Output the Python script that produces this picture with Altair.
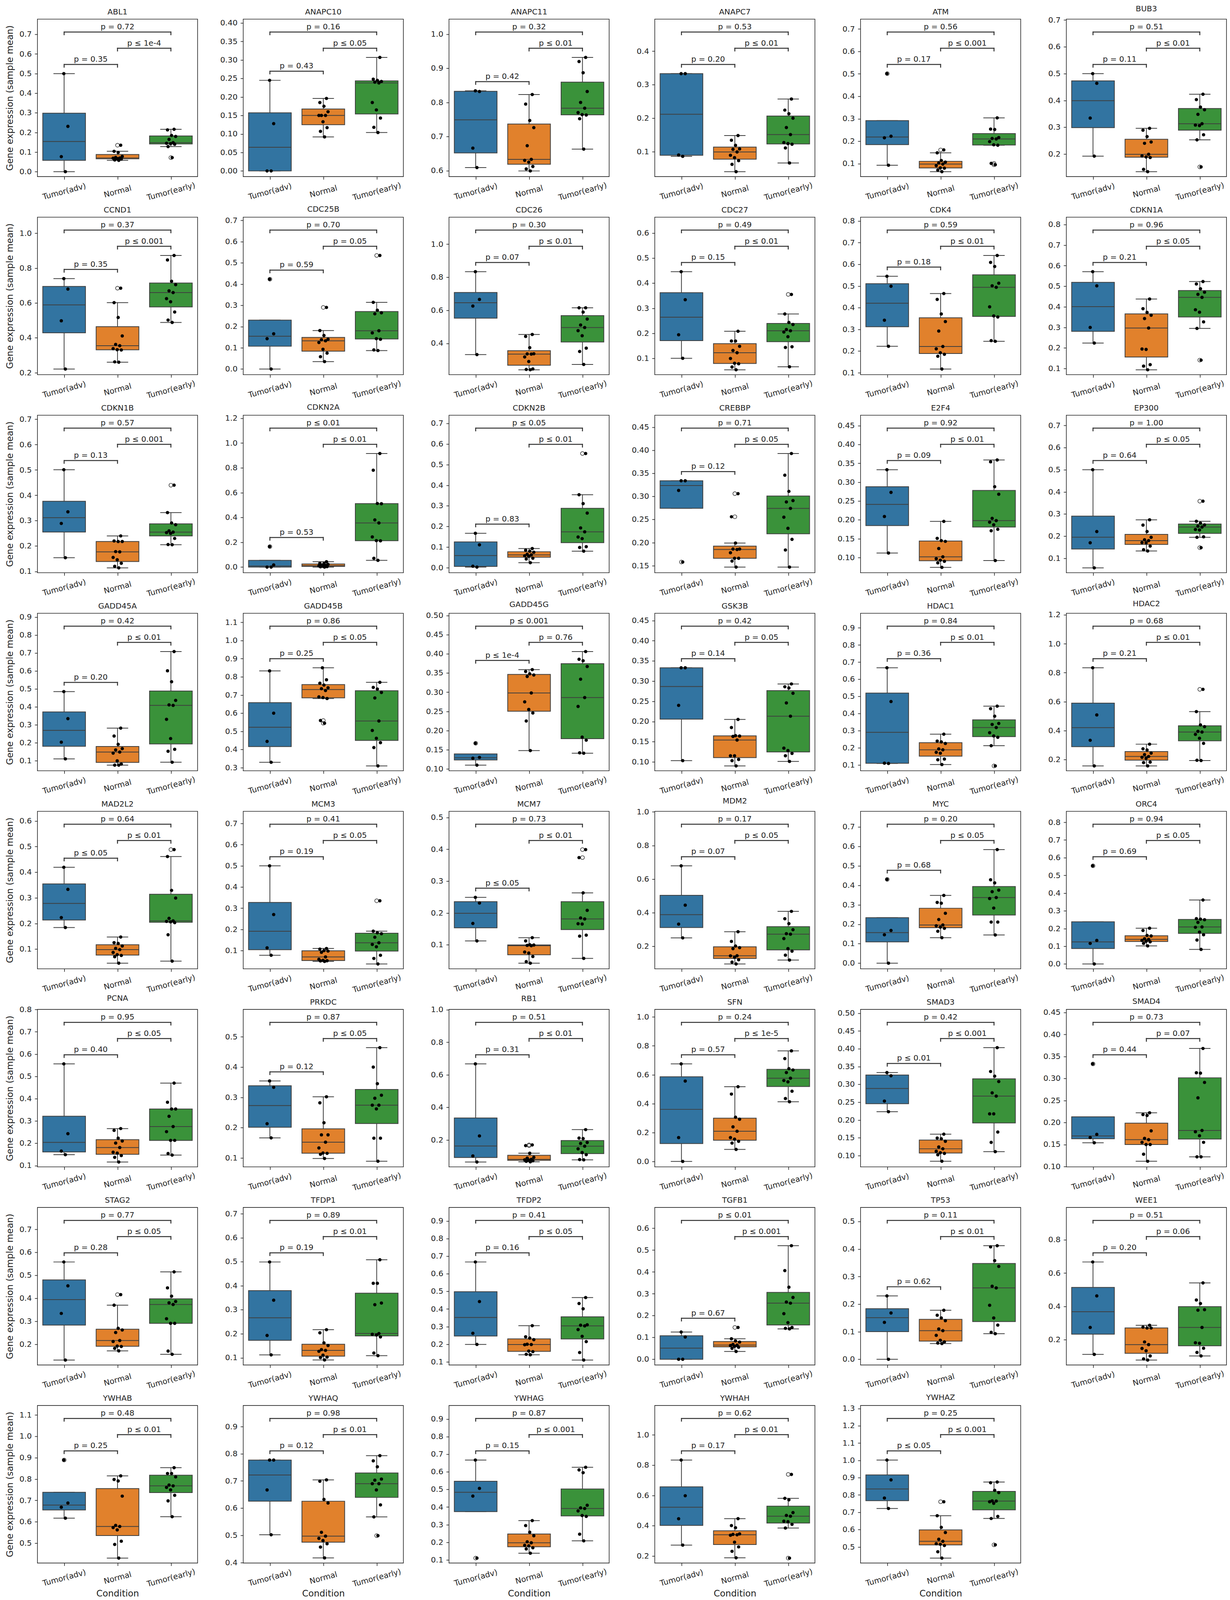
import math
import altair as alt
import pandas as pd

CATS = ["Tumor(adv)", "Normal", "Tumor(early)"]
COLORS = ["#3274a1", "#e1812c", "#3a923a"]

# ---- values: (Tumor(adv), Normal, Tumor(early)) ----
ABL1 = ([0.0, 0.077, 0.231, 0.5],
        [0.058, 0.060, 0.065, 0.067, 0.069, 0.070, 0.073, 0.078, 0.098, 0.104, 0.135],
        [0.072, 0.128, 0.140, 0.143, 0.145, 0.148, 0.165, 0.180, 0.185, 0.213, 0.216])
ANAPC10 = ([0.0, 0.0, 0.128, 0.245],
           [0.092, 0.107, 0.117, 0.133, 0.150, 0.150, 0.150, 0.160, 0.175, 0.185, 0.196],
           [0.104, 0.118, 0.143, 0.165, 0.185, 0.238, 0.240, 0.242, 0.245, 0.248, 0.307])
ANAPC11 = ([0.609, 0.666, 0.832, 0.834],
           [0.599, 0.605, 0.612, 0.625, 0.630, 0.633, 0.673, 0.726, 0.747, 0.795, 0.823],
           [0.663, 0.752, 0.763, 0.764, 0.770, 0.783, 0.800, 0.832, 0.887, 0.920, 0.932])
ANAPC7 = ([0.086, 0.090, 0.333, 0.333],
          [0.040, 0.062, 0.073, 0.082, 0.089, 0.099, 0.107, 0.108, 0.119, 0.134, 0.148],
          [0.066, 0.111, 0.122, 0.124, 0.127, 0.151, 0.172, 0.200, 0.213, 0.224, 0.257])
ATM = ([0.093, 0.215, 0.222, 0.501],
       [0.064, 0.071, 0.080, 0.081, 0.091, 0.098, 0.103, 0.107, 0.114, 0.148, 0.161],
       [0.095, 0.101, 0.182, 0.184, 0.198, 0.210, 0.212, 0.216, 0.252, 0.254, 0.304])
BUB3 = ([0.192, 0.334, 0.464, 0.500],
        [0.134, 0.143, 0.187, 0.189, 0.193, 0.199, 0.240, 0.245, 0.265, 0.289, 0.296],
        [0.152, 0.253, 0.272, 0.306, 0.308, 0.313, 0.348, 0.365, 0.375, 0.403, 0.423])
CCND1 = ([0.221, 0.498, 0.680, 0.740],
         [0.260, 0.262, 0.330, 0.332, 0.338, 0.355, 0.362, 0.411, 0.517, 0.602, 0.685],
         [0.488, 0.502, 0.548, 0.607, 0.625, 0.660, 0.670, 0.705, 0.725, 0.847, 0.873])
CDC25B = ([0.0, 0.143, 0.166, 0.423],
          [0.035, 0.058, 0.075, 0.093, 0.125, 0.133, 0.138, 0.140, 0.158, 0.181, 0.290],
          [0.087, 0.090, 0.140, 0.143, 0.170, 0.180, 0.260, 0.265, 0.277, 0.314, 0.535])
CDC26 = ([0.332, 0.626, 0.666, 0.834],
         [0.240, 0.242, 0.245, 0.290, 0.318, 0.335, 0.336, 0.337, 0.374, 0.442, 0.454],
         [0.272, 0.351, 0.371, 0.446, 0.477, 0.496, 0.511, 0.547, 0.589, 0.615, 0.615])
CDC27 = ([0.100, 0.194, 0.334, 0.446],
         [0.054, 0.065, 0.078, 0.080, 0.099, 0.122, 0.131, 0.148, 0.169, 0.169, 0.208],
         [0.066, 0.143, 0.146, 0.186, 0.205, 0.210, 0.215, 0.235, 0.243, 0.277, 0.355])
CDK4 = ([0.222, 0.342, 0.499, 0.545],
        [0.117, 0.176, 0.185, 0.192, 0.210, 0.221, 0.292, 0.336, 0.371, 0.438, 0.465],
        [0.245, 0.248, 0.357, 0.362, 0.404, 0.494, 0.501, 0.513, 0.590, 0.609, 0.641])
CDKN1A = ([0.224, 0.300, 0.502, 0.571],
          [0.094, 0.112, 0.119, 0.193, 0.195, 0.297, 0.343, 0.359, 0.373, 0.391, 0.438],
          [0.141, 0.295, 0.327, 0.374, 0.386, 0.446, 0.461, 0.471, 0.488, 0.511, 0.523])
CDKN1B = ([0.154, 0.289, 0.335, 0.501],
          [0.114, 0.120, 0.132, 0.146, 0.155, 0.177, 0.178, 0.218, 0.218, 0.220, 0.240],
          [0.205, 0.206, 0.230, 0.250, 0.253, 0.255, 0.260, 0.284, 0.291, 0.332, 0.440])
CDKN2A = ([0.0, 0.0, 0.017, 0.165],
          [0.0, 0.002, 0.004, 0.006, 0.010, 0.012, 0.015, 0.022, 0.028, 0.030, 0.043],
          [0.054, 0.071, 0.212, 0.213, 0.243, 0.356, 0.380, 0.511, 0.513, 0.781, 0.916])
CDKN2B = ([0.003, 0.007, 0.111, 0.167],
          [0.024, 0.042, 0.046, 0.055, 0.058, 0.062, 0.065, 0.075, 0.080, 0.085, 0.093],
          [0.080, 0.098, 0.102, 0.141, 0.149, 0.174, 0.193, 0.265, 0.311, 0.354, 0.554])
CREBBP = ([0.158, 0.313, 0.334, 0.334],
          [0.147, 0.160, 0.166, 0.166, 0.178, 0.185, 0.186, 0.186, 0.199, 0.256, 0.306],
          [0.147, 0.184, 0.207, 0.231, 0.255, 0.274, 0.288, 0.291, 0.311, 0.346, 0.393])
E2F4 = ([0.112, 0.209, 0.273, 0.333],
        [0.074, 0.086, 0.090, 0.093, 0.097, 0.102, 0.124, 0.143, 0.145, 0.151, 0.196],
        [0.092, 0.171, 0.175, 0.187, 0.194, 0.198, 0.204, 0.268, 0.288, 0.354, 0.359])
EP300 = ([0.057, 0.170, 0.221, 0.500],
         [0.133, 0.139, 0.155, 0.170, 0.171, 0.180, 0.184, 0.195, 0.221, 0.250, 0.274],
         [0.148, 0.195, 0.197, 0.228, 0.230, 0.241, 0.245, 0.251, 0.259, 0.267, 0.358])
GADD45A = ([0.110, 0.203, 0.334, 0.485],
           [0.075, 0.075, 0.081, 0.099, 0.142, 0.148, 0.160, 0.167, 0.191, 0.237, 0.281],
           [0.091, 0.152, 0.163, 0.223, 0.330, 0.408, 0.411, 0.436, 0.540, 0.601, 0.708])
GADD45B = ([0.330, 0.445, 0.600, 0.833],
           [0.545, 0.560, 0.681, 0.686, 0.690, 0.725, 0.735, 0.740, 0.755, 0.765, 0.784, 0.850],
           [0.310, 0.411, 0.438, 0.462, 0.505, 0.557, 0.684, 0.714, 0.733, 0.742, 0.770])
GADD45G = ([0.110, 0.128, 0.130, 0.167],
           [0.148, 0.225, 0.246, 0.255, 0.275, 0.298, 0.341, 0.345, 0.348, 0.354, 0.359],
           [0.141, 0.142, 0.175, 0.183, 0.263, 0.286, 0.334, 0.367, 0.382, 0.386, 0.406])
GSK3B = ([0.103, 0.240, 0.333, 0.333],
         [0.090, 0.103, 0.106, 0.115, 0.115, 0.154, 0.163, 0.164, 0.165, 0.185, 0.205],
         [0.101, 0.115, 0.121, 0.128, 0.134, 0.213, 0.246, 0.270, 0.283, 0.286, 0.293])
HDAC1 = ([0.108, 0.110, 0.470, 0.667],
         [0.102, 0.130, 0.134, 0.168, 0.173, 0.188, 0.193, 0.225, 0.234, 0.239, 0.279],
         [0.094, 0.212, 0.261, 0.269, 0.288, 0.318, 0.336, 0.342, 0.384, 0.428, 0.443])
HDAC2 = ([0.156, 0.333, 0.508, 0.834],
         [0.156, 0.179, 0.182, 0.209, 0.215, 0.221, 0.234, 0.244, 0.266, 0.274, 0.306],
         [0.193, 0.195, 0.312, 0.347, 0.374, 0.390, 0.395, 0.427, 0.439, 0.531, 0.685])
MAD2L2 = ([0.184, 0.223, 0.333, 0.419],
          [0.045, 0.070, 0.075, 0.078, 0.087, 0.098, 0.103, 0.112, 0.122, 0.125, 0.147],
          [0.053, 0.156, 0.203, 0.206, 0.208, 0.210, 0.220, 0.299, 0.329, 0.461, 0.488])
MCM3 = ([0.078, 0.113, 0.270, 0.500],
        [0.049, 0.051, 0.052, 0.054, 0.059, 0.070, 0.092, 0.098, 0.100, 0.107, 0.110],
        [0.037, 0.063, 0.078, 0.118, 0.129, 0.137, 0.163, 0.180, 0.184, 0.192, 0.335])
MCM7 = ([0.112, 0.167, 0.231, 0.249],
        [0.042, 0.047, 0.063, 0.074, 0.077, 0.097, 0.098, 0.099, 0.100, 0.112, 0.122],
        [0.057, 0.127, 0.130, 0.165, 0.166, 0.181, 0.184, 0.208, 0.263, 0.374, 0.399])
MDM2 = ([0.250, 0.332, 0.445, 0.679],
        [0.095, 0.106, 0.120, 0.135, 0.143, 0.144, 0.186, 0.192, 0.202, 0.229, 0.287],
        [0.118, 0.147, 0.171, 0.186, 0.246, 0.272, 0.275, 0.299, 0.335, 0.364, 0.408])
MYC = ([0.0, 0.146, 0.168, 0.430],
       [0.131, 0.164, 0.179, 0.185, 0.192, 0.196, 0.224, 0.256, 0.308, 0.312, 0.348],
       [0.145, 0.211, 0.211, 0.283, 0.332, 0.337, 0.367, 0.375, 0.412, 0.428, 0.583])
ORC4 = ([0.0, 0.116, 0.133, 0.554],
        [0.102, 0.116, 0.125, 0.128, 0.133, 0.139, 0.142, 0.158, 0.161, 0.189, 0.202],
        [0.082, 0.135, 0.165, 0.180, 0.207, 0.209, 0.235, 0.250, 0.253, 0.256, 0.361])
PCNA = ([0.149, 0.165, 0.243, 0.556],
        [0.116, 0.137, 0.145, 0.156, 0.160, 0.181, 0.201, 0.210, 0.223, 0.258, 0.266],
        [0.147, 0.154, 0.213, 0.213, 0.252, 0.275, 0.321, 0.354, 0.354, 0.384, 0.470])
PRKDC = ([0.166, 0.213, 0.333, 0.354],
         [0.098, 0.112, 0.115, 0.116, 0.133, 0.152, 0.176, 0.176, 0.216, 0.282, 0.302],
         [0.089, 0.165, 0.165, 0.262, 0.274, 0.274, 0.297, 0.307, 0.345, 0.400, 0.464])
RB1 = ([0.064, 0.101, 0.224, 0.667],
       [0.065, 0.068, 0.072, 0.076, 0.077, 0.080, 0.088, 0.093, 0.118, 0.165, 0.169],
       [0.077, 0.079, 0.109, 0.122, 0.145, 0.161, 0.178, 0.184, 0.208, 0.211, 0.263])
SFN = ([0.0, 0.165, 0.556, 0.675],
       [0.083, 0.127, 0.139, 0.154, 0.165, 0.209, 0.239, 0.292, 0.306, 0.466, 0.517],
       [0.413, 0.435, 0.486, 0.551, 0.560, 0.576, 0.615, 0.633, 0.642, 0.712, 0.765])
SMAD3 = ([0.223, 0.253, 0.324, 0.333],
         [0.084, 0.102, 0.106, 0.108, 0.112, 0.119, 0.124, 0.140, 0.147, 0.149, 0.160],
         [0.111, 0.137, 0.166, 0.217, 0.217, 0.267, 0.276, 0.308, 0.323, 0.336, 0.403])
SMAD4 = ([0.154, 0.166, 0.173, 0.333],
         [0.112, 0.128, 0.150, 0.150, 0.155, 0.161, 0.164, 0.181, 0.216, 0.218, 0.222],
         [0.122, 0.122, 0.155, 0.170, 0.179, 0.182, 0.256, 0.291, 0.312, 0.313, 0.368])
STAG2 = ([0.131, 0.334, 0.454, 0.558],
         [0.171, 0.182, 0.190, 0.192, 0.212, 0.216, 0.251, 0.262, 0.269, 0.370, 0.416],
         [0.156, 0.170, 0.291, 0.291, 0.311, 0.373, 0.380, 0.386, 0.409, 0.445, 0.515])
TFDP1 = ([0.112, 0.193, 0.340, 0.499],
         [0.091, 0.101, 0.103, 0.111, 0.127, 0.131, 0.134, 0.151, 0.162, 0.204, 0.217],
         [0.109, 0.120, 0.187, 0.195, 0.198, 0.201, 0.321, 0.328, 0.410, 0.410, 0.508])
TFDP2 = ([0.199, 0.262, 0.442, 0.667],
         [0.140, 0.143, 0.158, 0.161, 0.197, 0.198, 0.200, 0.226, 0.235, 0.242, 0.305],
         [0.110, 0.153, 0.215, 0.245, 0.283, 0.304, 0.308, 0.310, 0.401, 0.431, 0.465])
TGFB1 = ([0.0, 0.0, 0.102, 0.125],
         [0.036, 0.050, 0.055, 0.059, 0.063, 0.065, 0.068, 0.079, 0.084, 0.094, 0.146],
         [0.139, 0.142, 0.146, 0.168, 0.209, 0.257, 0.262, 0.283, 0.330, 0.406, 0.520])
TP53 = ([0.0, 0.134, 0.168, 0.230],
        [0.057, 0.059, 0.063, 0.069, 0.087, 0.104, 0.110, 0.140, 0.150, 0.160, 0.178],
        [0.093, 0.098, 0.124, 0.150, 0.196, 0.259, 0.265, 0.337, 0.358, 0.408, 0.412])
WEE1 = ([0.111, 0.273, 0.463, 0.667],
        [0.077, 0.084, 0.102, 0.133, 0.147, 0.170, 0.186, 0.270, 0.270, 0.275, 0.286],
        [0.102, 0.123, 0.148, 0.178, 0.181, 0.273, 0.377, 0.380, 0.417, 0.438, 0.541])
YWHAB = ([0.617, 0.668, 0.688, 0.889],
         [0.430, 0.494, 0.509, 0.562, 0.573, 0.578, 0.583, 0.720, 0.791, 0.798, 0.815],
         [0.624, 0.698, 0.724, 0.749, 0.761, 0.768, 0.772, 0.810, 0.826, 0.826, 0.853])
YWHAQ = ([0.502, 0.667, 0.777, 0.777],
         [0.417, 0.457, 0.469, 0.481, 0.489, 0.497, 0.511, 0.619, 0.632, 0.699, 0.704],
         [0.499, 0.568, 0.612, 0.667, 0.690, 0.690, 0.703, 0.707, 0.752, 0.774, 0.793])
YWHAG = ([0.110, 0.462, 0.506, 0.667],
         [0.138, 0.162, 0.169, 0.180, 0.183, 0.197, 0.203, 0.237, 0.257, 0.295, 0.323],
         [0.208, 0.246, 0.347, 0.352, 0.378, 0.392, 0.395, 0.410, 0.595, 0.611, 0.626])
YWHAH = ([0.272, 0.446, 0.598, 0.834],
         [0.188, 0.231, 0.260, 0.291, 0.337, 0.340, 0.343, 0.346, 0.387, 0.401, 0.447],
         [0.186, 0.385, 0.409, 0.427, 0.430, 0.463, 0.468, 0.487, 0.571, 0.581, 0.739])
YWHAZ = ([0.722, 0.782, 0.887, 1.002],
         [0.435, 0.472, 0.508, 0.515, 0.518, 0.532, 0.544, 0.583, 0.613, 0.680, 0.761],
         [0.512, 0.664, 0.676, 0.752, 0.761, 0.765, 0.766, 0.814, 0.827, 0.871, 0.875])

# p-value labels: (adv vs Normal, Normal vs early, adv vs early)
P_LABELS = {
    "ABL1": ("p = 0.35", "p ≤ 1e-4", "p = 0.72"),
    "ANAPC10": ("p = 0.43", "p ≤ 0.05", "p = 0.16"),
    "ANAPC11": ("p = 0.42", "p ≤ 0.01", "p = 0.32"),
    "ANAPC7": ("p = 0.20", "p ≤ 0.01", "p = 0.53"),
    "ATM": ("p = 0.17", "p ≤ 0.001", "p = 0.56"),
    "BUB3": ("p = 0.11", "p ≤ 0.01", "p = 0.51"),
    "CCND1": ("p = 0.35", "p ≤ 0.001", "p = 0.37"),
    "CDC25B": ("p = 0.59", "p = 0.05", "p = 0.70"),
    "CDC26": ("p = 0.07", "p ≤ 0.01", "p = 0.30"),
    "CDC27": ("p = 0.15", "p ≤ 0.01", "p = 0.49"),
    "CDK4": ("p = 0.18", "p ≤ 0.01", "p = 0.59"),
    "CDKN1A": ("p = 0.21", "p ≤ 0.05", "p = 0.96"),
    "CDKN1B": ("p = 0.13", "p ≤ 0.001", "p = 0.57"),
    "CDKN2A": ("p = 0.53", "p ≤ 0.01", "p ≤ 0.01"),
    "CDKN2B": ("p = 0.83", "p ≤ 0.01", "p ≤ 0.05"),
    "CREBBP": ("p = 0.12", "p ≤ 0.05", "p = 0.71"),
    "E2F4": ("p = 0.09", "p ≤ 0.01", "p = 0.92"),
    "EP300": ("p = 0.64", "p ≤ 0.05", "p = 1.00"),
    "GADD45A": ("p = 0.20", "p ≤ 0.01", "p = 0.42"),
    "GADD45B": ("p = 0.25", "p ≤ 0.05", "p = 0.86"),
    "GADD45G": ("p ≤ 1e-4", "p = 0.76", "p ≤ 0.001"),
    "GSK3B": ("p = 0.14", "p = 0.05", "p = 0.42"),
    "HDAC1": ("p = 0.36", "p ≤ 0.01", "p = 0.84"),
    "HDAC2": ("p = 0.21", "p ≤ 0.01", "p = 0.68"),
    "MAD2L2": ("p ≤ 0.05", "p ≤ 0.01", "p = 0.64"),
    "MCM3": ("p = 0.19", "p ≤ 0.05", "p = 0.41"),
    "MCM7": ("p ≤ 0.05", "p ≤ 0.01", "p = 0.73"),
    "MDM2": ("p = 0.07", "p ≤ 0.05", "p = 0.17"),
    "MYC": ("p = 0.68", "p ≤ 0.05", "p = 0.20"),
    "ORC4": ("p = 0.69", "p ≤ 0.05", "p = 0.94"),
    "PCNA": ("p = 0.40", "p ≤ 0.05", "p = 0.95"),
    "PRKDC": ("p = 0.12", "p ≤ 0.05", "p = 0.87"),
    "RB1": ("p = 0.31", "p ≤ 0.01", "p = 0.51"),
    "SFN": ("p = 0.57", "p ≤ 1e-5", "p = 0.24"),
    "SMAD3": ("p ≤ 0.01", "p ≤ 0.001", "p = 0.42"),
    "SMAD4": ("p = 0.44", "p = 0.07", "p = 0.73"),
    "STAG2": ("p = 0.28", "p ≤ 0.05", "p = 0.77"),
    "TFDP1": ("p = 0.19", "p ≤ 0.01", "p = 0.89"),
    "TFDP2": ("p = 0.16", "p ≤ 0.05", "p = 0.41"),
    "TGFB1": ("p = 0.67", "p ≤ 0.001", "p ≤ 0.01"),
    "TP53": ("p = 0.62", "p ≤ 0.01", "p = 0.11"),
    "WEE1": ("p = 0.20", "p = 0.06", "p = 0.51"),
    "YWHAB": ("p = 0.25", "p ≤ 0.01", "p = 0.48"),
    "YWHAQ": ("p = 0.12", "p ≤ 0.01", "p = 0.98"),
    "YWHAG": ("p = 0.15", "p ≤ 0.001", "p = 0.87"),
    "YWHAH": ("p = 0.17", "p ≤ 0.01", "p = 0.62"),
    "YWHAZ": ("p ≤ 0.05", "p ≤ 0.001", "p = 0.25"),
}

GENES = ["ABL1", "ANAPC10", "ANAPC11", "ANAPC7", "ATM", "BUB3",
         "CCND1", "CDC25B", "CDC26", "CDC27", "CDK4", "CDKN1A",
         "CDKN1B", "CDKN2A", "CDKN2B", "CREBBP", "E2F4", "EP300",
         "GADD45A", "GADD45B", "GADD45G", "GSK3B", "HDAC1", "HDAC2",
         "MAD2L2", "MCM3", "MCM7", "MDM2", "MYC", "ORC4",
         "PCNA", "PRKDC", "RB1", "SFN", "SMAD3", "SMAD4",
         "STAG2", "TFDP1", "TFDP2", "TGFB1", "TP53", "WEE1",
         "YWHAB", "YWHAQ", "YWHAG", "YWHAH", "YWHAZ"]

# y tick spacing
Y_TICK_STEP = [0.1, 0.05, 0.1, 0.1, 0.1, 0.1,
               0.2, 0.1, 0.2, 0.1, 0.1, 0.1,
               0.1, 0.2, 0.1, 0.05, 0.05, 0.1,
               0.1, 0.1, 0.05, 0.05, 0.1, 0.2,
               0.1, 0.1, 0.1, 0.2, 0.1, 0.1,
               0.1, 0.1, 0.2, 0.2, 0.05, 0.05,
               0.1, 0.1, 0.1, 0.1, 0.1, 0.2,
               0.1, 0.1, 0.1, 0.2, 0.1]

SERIES = {"ABL1": ABL1, "ANAPC10": ANAPC10, "ANAPC11": ANAPC11, "ANAPC7": ANAPC7,
          "ATM": ATM, "BUB3": BUB3, "CCND1": CCND1, "CDC25B": CDC25B, "CDC26": CDC26,
          "CDC27": CDC27, "CDK4": CDK4, "CDKN1A": CDKN1A, "CDKN1B": CDKN1B,
          "CDKN2A": CDKN2A, "CDKN2B": CDKN2B, "CREBBP": CREBBP, "E2F4": E2F4,
          "EP300": EP300, "GADD45A": GADD45A, "GADD45B": GADD45B, "GADD45G": GADD45G,
          "GSK3B": GSK3B, "HDAC1": HDAC1, "HDAC2": HDAC2, "MAD2L2": MAD2L2,
          "MCM3": MCM3, "MCM7": MCM7, "MDM2": MDM2, "MYC": MYC, "ORC4": ORC4,
          "PCNA": PCNA, "PRKDC": PRKDC, "RB1": RB1, "SFN": SFN, "SMAD3": SMAD3,
          "SMAD4": SMAD4, "STAG2": STAG2, "TFDP1": TFDP1, "TFDP2": TFDP2,
          "TGFB1": TGFB1, "TP53": TP53, "WEE1": WEE1, "YWHAB": YWHAB,
          "YWHAQ": YWHAQ, "YWHAG": YWHAG, "YWHAH": YWHAH, "YWHAZ": YWHAZ}

# ---- styling / layout constants ----
FONT = "DejaVu Sans"
EDGE = "#3f3f3f"
FRAME = "#262626"
TXTC = "#222222"
PW, PH = 411, 404
PAIRS = [(0, 1), (1, 2), (0, 2)]
GAP, TXT, TOPM, LEG = 0.058, 0.045, 0.082, 0.017

# ---- tables built from the arrays ----
pt_rows = []
for g in GENES:
    for gi, vals in enumerate(SERIES[g]):
        for v in vals:
            pt_rows.append({"gene": g, "group": CATS[gi], "gi": gi, "value": v})
points = pd.DataFrame(pt_rows)


def annotation_layout(series):
    mx = [max(s) for s in series]
    lo = min(min(s) for s in series)
    rng = max(mx) - lo
    bottom = lo - 0.05 * rng
    u = 1.5 * rng
    ys = []
    for _ in range(80):
        stack = list(mx)
        ys = []
        for a, b in PAIRS:
            y = max(stack[a:b + 1]) + GAP * u
            ys.append(y)
            for k in range(a, b + 1):
                stack[k] = y + TXT * u
        top = max(stack) - TXT * u + TOPM * u
        u = top - bottom
    return bottom, bottom + u, ys, u


br_rows = []
LAYOUT = {}
for g in GENES:
    bottom, top, ys, span = annotation_layout(SERIES[g])
    LAYOUT[g] = (bottom, top)
    for (a, b), y, lab in zip(PAIRS, ys, P_LABELS[g]):
        br_rows.append({"gene": g, "x1": a, "x2": b, "xm": (a + b) / 2,
                        "y": y, "yl": y - LEG * span, "label": lab})
brackets = pd.DataFrame(br_rows)

cscale = alt.Scale(domain=CATS, range=COLORS)
label_expr = ("datum.value == 0 ? '%s' : datum.value == 1 ? '%s' : '%s'"
              % tuple(CATS))


def panel(i, gene):
    row, col = divmod(i, 6)
    bottom, top = LAYOUT[gene]
    step = Y_TICK_STEP[i]
    k0 = math.ceil(bottom / step - 1e-9)
    k1 = math.floor(top / step + 1e-9)
    tick_vals = [round(k * step, 6) for k in range(k0, k1 + 1)]
    fmt = ".2f" if abs(step - 0.05) < 1e-9 else ".1f"

    xs = alt.Scale(domain=[-0.5, 2.5], nice=False, zero=False)
    yscale = alt.Scale(domain=[bottom, top], nice=False, zero=False)
    xkw = dict(values=[0, 1, 2], labelExpr=label_expr, labelAngle=345,
               labelAlign="center", labelBaseline="middle", labelPadding=31,
               tickSize=7, labelOverlap=False, grid=False, domain=False,
               titlePadding=3)
    xaxis = alt.Axis(title="Condition", **xkw) if row == 7 else alt.Axis(title=None, **xkw)
    ykw = dict(values=tick_vals, format=fmt, tickSize=7, labelPadding=8,
               grid=False, domain=False, titlePadding=12)
    yaxis = (alt.Axis(title="Gene expression (sample mean)", **ykw) if col == 0
             else alt.Axis(title=None, **ykw))

    def X(f):
        return alt.X(f, type="quantitative", scale=xs, axis=xaxis)

    def Y(f):
        return alt.Y(f, type="quantitative", scale=yscale, axis=yaxis)

    base = alt.Chart(points).transform_filter(alt.datum.gene == gene)
    fences = base.transform_joinaggregate(
        q1="q1(value)", q3="q3(value)", groupby=["gi"]
    ).transform_calculate(
        lof="datum.q1 - 1.5 * (datum.q3 - datum.q1)",
        hif="datum.q3 + 1.5 * (datum.q3 - datum.q1)",
    )
    whisk = fences.transform_filter(
        "datum.value >= datum.lof && datum.value <= datum.hif"
    ).transform_aggregate(
        lo="min(value)", hi="max(value)", q1="max(q1)", q3="max(q3)", groupby=["gi"]
    ).transform_calculate(
        wlo="min(datum.lo, datum.q1)", whi="max(datum.hi, datum.q3)",
        c1="datum.gi - 0.2", c2="datum.gi + 0.2",
    )
    whisker = whisk.mark_rule(color=EDGE, strokeWidth=2).encode(
        x=X("gi"), y=Y("wlo"), y2="whi")
    caps = whisk.transform_fold(["wlo", "whi"], as_=["cap", "cy"]).mark_rule(
        color=EDGE, strokeWidth=2).encode(x=X("c1"), x2="c2", y=Y("cy"))

    box = base.transform_aggregate(
        q1="q1(value)", q3="q3(value)", med="median(value)", groupby=["gi", "group"]
    ).transform_calculate(b1="datum.gi - 0.4", b2="datum.gi + 0.4")
    rect = box.mark_rect(stroke=EDGE, strokeWidth=2, opacity=1).encode(
        x=X("b1"), x2="b2", y=Y("q1"), y2="q3",
        color=alt.Color("group:N", scale=cscale, legend=None))
    med = box.mark_rule(color=EDGE, strokeWidth=2).encode(
        x=X("b1"), x2="b2", y=Y("med"))

    outl = fences.transform_filter(
        "datum.value < datum.lof || datum.value > datum.hif"
    ).mark_point(shape="circle", filled=False, color="#4a4a4a", strokeWidth=1.7,
                 size=95, opacity=1).encode(x=X("gi"), y=Y("value"))

    dots = base.transform_window(
        rn="row_number()", groupby=["gi"]
    ).transform_calculate(
        jx="datum.gi + (((datum.rn * 0.6180339887) % 1) - 0.5) * 0.2"
    ).mark_circle(size=72, color="black", opacity=1).encode(
        x=X("jx"), y=Y("value"))

    bb = alt.Chart(brackets).transform_filter(alt.datum.gene == gene)
    hline = bb.mark_rule(color="#333333", strokeWidth=2.5, strokeCap="square").encode(
        x=X("x1"), x2="x2", y=Y("y"))
    legs = bb.transform_fold(["x1", "x2"], as_=["side", "lx"]).mark_rule(
        color="#333333", strokeWidth=2.5, strokeCap="square").encode(
        x=X("lx"), y=Y("yl"), y2="y")
    txt = bb.mark_text(baseline="bottom", align="center", dy=-3, fontSize=20,
                       font=FONT, color=TXTC).encode(
        x=X("xm"), y=Y("y"), text="label:N")

    return alt.layer(whisker, caps, rect, med, outl, dots, hline, legs, txt).properties(
        width=PW, height=PH, title=gene)


charts = [panel(i, g) for i, g in enumerate(GENES)]

chart = alt.concat(
    *charts, columns=6, spacing={"row": 104, "column": 117}, bounds="flush"
).properties(
    padding={"left": 5, "top": 0, "right": 0, "bottom": 100}
).configure(
    font=FONT, background="white"
).configure_view(
    stroke=FRAME, strokeWidth=1.6
).configure_axis(
    labelFont=FONT, titleFont=FONT, labelFontSize=20, titleFontSize=23,
    titleFontWeight="normal", labelColor=TXTC, titleColor=TXTC,
    tickColor=FRAME, tickWidth=1.6
).configure_title(
    font=FONT, fontSize=20, fontWeight="normal", color=TXTC, offset=8, anchor="middle"
)

chart.save("out.html", embed_options={"renderer": "svg", "actions": False})
